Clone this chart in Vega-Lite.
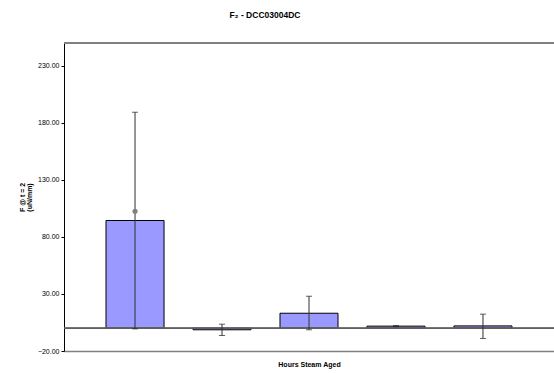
{
  "$schema": "https://vega.github.io/schema/vega-lite/v6.json",
  "autosize": "none",
  "padding": {"left": 64, "top": 43, "right": 0, "bottom": 22},
  "width": 490,
  "height": 308,
  "background": "white",
  "config": {"view": {"stroke": null}, "font": "Liberation Sans"},
  "title": {
    "text": "F₂ - DCC03004DC",
    "fontSize": 8.5,
    "fontWeight": "bold",
    "font": "Liberation Sans",
    "anchor": "middle",
    "frame": "group",
    "dx": -44,
    "offset": 23
  },
  "data": {
    "values": [
      {"hours": "0", "value": 94.4, "lo": -0.6, "hi": 189.3, "pt": 102.5},
      {"hours": "1", "value": -1.4, "lo": -6.4, "hi": 3.5, "pt": null},
      {"hours": "2", "value": 13.1, "lo": -1.4, "hi": 28.0, "pt": null},
      {"hours": "3", "value": 1.8, "lo": 1.4, "hi": 2.3, "pt": null},
      {"hours": "4", "value": 2.0, "lo": -9.0, "hi": 12.3, "pt": null}
    ]
  },
  "encoding": {
    "x": {
      "field": "hours",
      "type": "nominal",
      "sort": null,
      "scale": {"paddingInner": 0.333, "paddingOuter": 0.483},
      "axis": {
        "orient": "bottom",
        "labels": false,
        "ticks": false,
        "domainColor": "#808080",
        "domainWidth": 1.5,
        "title": "Hours Steam Aged",
        "titleFont": "Liberation Sans",
        "titleFontSize": 7,
        "titleFontWeight": "bold",
        "titlePadding": 9
      }
    }
  },
  "layer": [
    {
      "mark": {"type": "rule", "color": "#808080", "strokeWidth": 1.5},
      "encoding": {
        "x": null,
        "y": {"datum": 250, "type": "quantitative"}
      }
    },
    {
      "mark": {"type": "bar", "fill": "#9999FF", "stroke": "#000000", "strokeWidth": 1},
      "encoding": {
        "y": {
          "field": "value",
          "type": "quantitative",
          "scale": {"domain": [-20, 250], "nice": false, "zero": false},
          "axis": {
            "values": [-20, 30, 80, 130, 180, 230],
            "format": ".2f",
            "grid": false,
            "domainColor": "#000000",
            "domainWidth": 1,
            "tickColor": "#000000",
            "tickSize": 3,
            "labelFont": "Liberation Sans",
            "labelFontSize": 7,
            "labelColor": "#000000",
            "labelPadding": 2,
            "title": ["F @ t = 2", "(uN/mm)"],
            "titleFont": "Liberation Sans",
            "titleFontSize": 7,
            "titleFontWeight": "bold",
            "titleLineHeight": 7,
            "titlePadding": 5
          }
        },
        "y2": {"datum": 0}
      }
    },
    {
      "mark": {"type": "rule", "color": "#606060", "strokeWidth": 1},
      "encoding": {
        "x": null,
        "y": {"datum": 0, "type": "quantitative"}
      }
    },
    {
      "mark": {"type": "rule", "color": "#303030", "strokeWidth": 1},
      "encoding": {
        "y": {"field": "lo", "type": "quantitative"},
        "y2": {"field": "hi"}
      }
    },
    {
      "mark": {"type": "tick", "color": "#202020", "size": 6, "thickness": 1},
      "encoding": {
        "y": {"field": "lo", "type": "quantitative"}
      }
    },
    {
      "mark": {"type": "tick", "color": "#202020", "size": 6, "thickness": 1},
      "encoding": {
        "y": {"field": "hi", "type": "quantitative"}
      }
    },
    {
      "transform": [{"filter": "datum.pt != null"}],
      "mark": {"type": "point", "filled": true, "color": "#808080", "size": 26, "opacity": 1},
      "encoding": {
        "y": {"field": "pt", "type": "quantitative"}
      }
    }
  ]
}
